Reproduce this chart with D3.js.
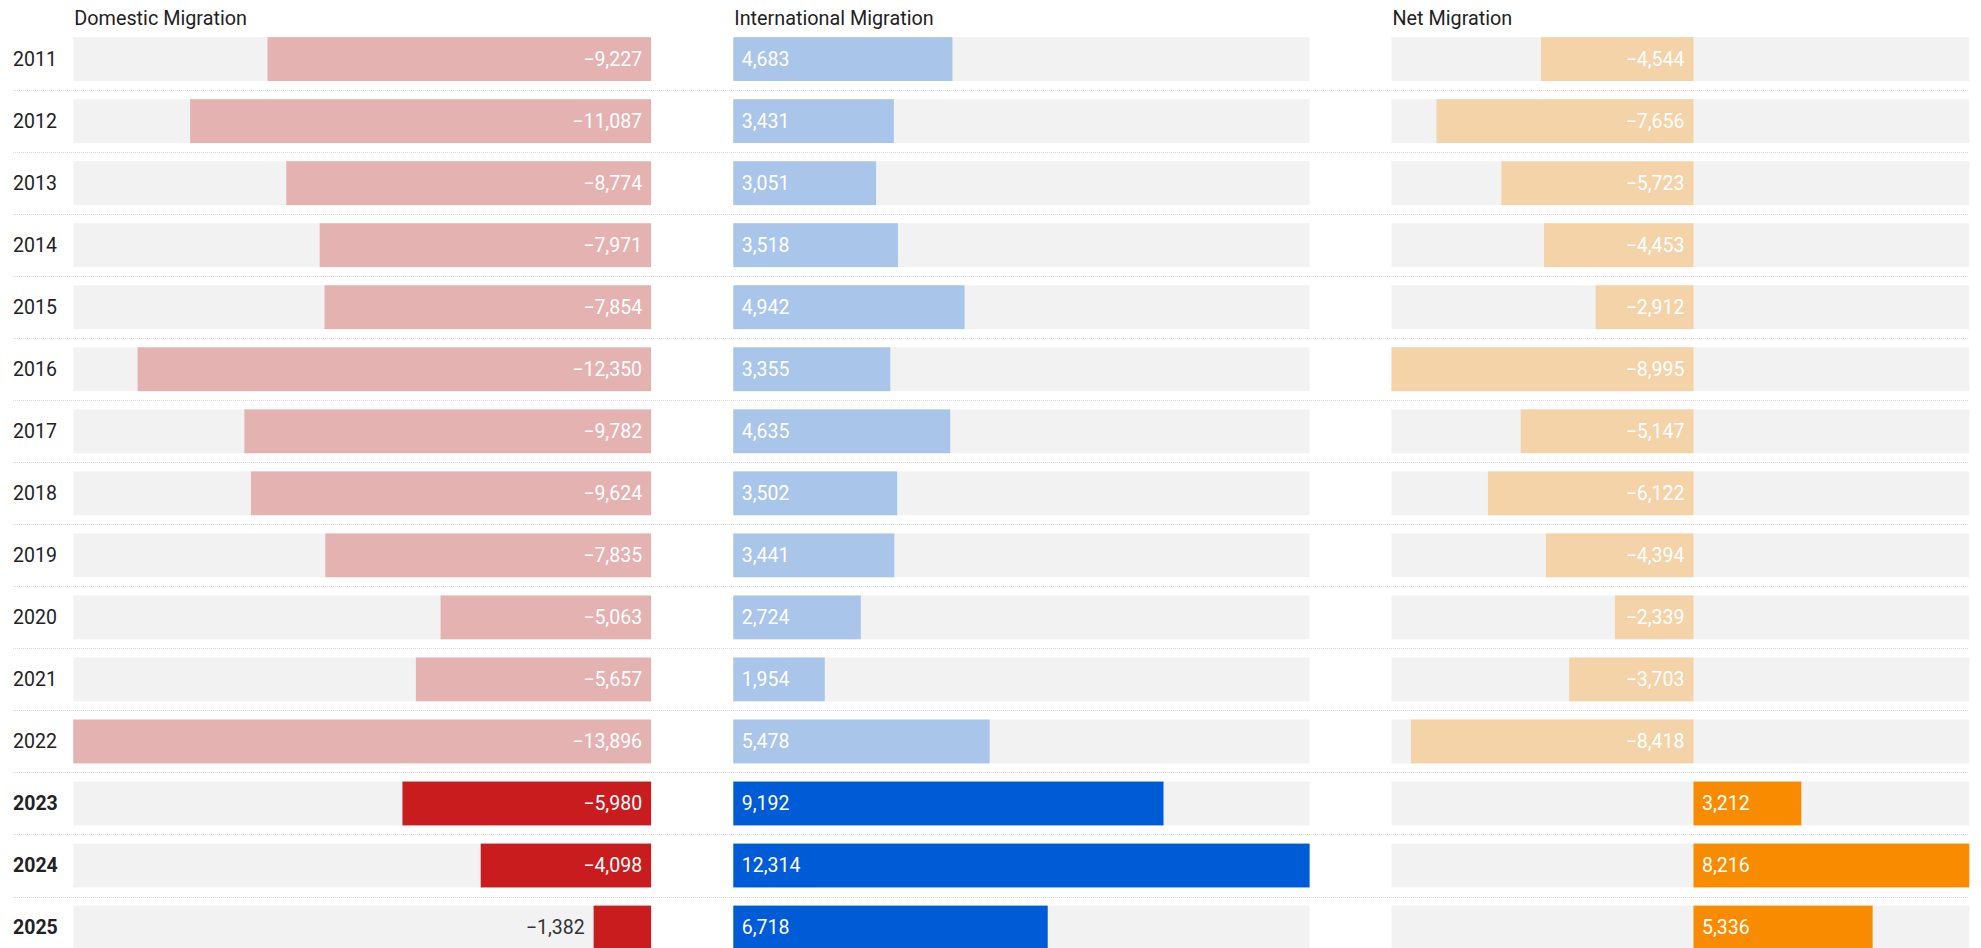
<!DOCTYPE html>
<html><head><meta charset="utf-8">
<script src="https://cdn.jsdelivr.net/npm/d3@7"></script>
<style>
html,body{margin:0;padding:0;background:#fff;}
svg{display:block;font-family:Roboto,"Noto Sans",sans-serif;}
</style></head>
<body><svg id="chart" width="1981" height="948"></svg>
<script>
const years = [2011,2012,2013,2014,2015,2016,2017,2018,2019,2020,2021,2022,2023,2024,2025];
const highlightYears = [2023,2024,2025];
const domestic = [-9227,-11087,-8774,-7971,-7854,-12350,-9782,-9624,-7835,-5063,-5657,-13896,-5980,-4098,-1382];
const international = [4683,3431,3051,3518,4942,3355,4635,3502,3441,2724,1954,5478,9192,12314,6718];
const net = [-4544,-7656,-5723,-4453,-2912,-8995,-5147,-6122,-4394,-2339,-3703,-8418,3212,8216,5336];
const panelTitles = ["Domestic Migration","International Migration","Net Migration"];
const lightColors = ["#e5b2b2","#a9c5e9","#f4d3a9"];
const darkColors = ["#c81c1e","#005bd6","#f98b00"];

const svg = d3.select("#chart");
const fmt = d3.format(",");
const step = 62.03, pInner = 18.2/62.03, top0 = 37.2;
const y = d3.scaleBand().domain(years).range([top0, top0 + step*(years.length - pInner)]).paddingInner(pInner).paddingOuter(0);

const panelLeft = [73.3, 733.3, 1391.5], panelW = [577.8, 576.3, 577.8];
const series = [domestic, international, net];

// dotted separators
const sepG = svg.append("g");
years.slice(0, -1).forEach(yr => {
  const yy = Math.round(y(yr) + y.bandwidth() + (y.step() - y.bandwidth())/2) + 0.5;
  sepG.append("line").attr("x1", 13).attr("x2", 1969).attr("y1", yy).attr("y2", yy)
    .attr("stroke", "#d9d9d9").attr("stroke-width", 1).attr("stroke-dasharray", "1,1");
});

// year labels
svg.append("g").selectAll("text").data(years).join("text")
  .attr("x", 13).attr("y", d => y(d) + y.bandwidth()/2)
  .attr("dy", "0.35em").attr("font-size", 19.5)
  .attr("font-weight", d => highlightYears.includes(d) ? 700 : 400)
  .attr("fill", "#222").text(d => d);

series.forEach((vals, pi) => {
  const ext = [Math.min(0, d3.min(vals)), Math.max(0, d3.max(vals))];
  const x = d3.scaleLinear().domain(ext).range([panelLeft[pi], panelLeft[pi] + panelW[pi]]);
  const g = svg.append("g");
  g.append("text").attr("x", panelLeft[pi] + 1).attr("y", 25).attr("font-size", 19.8)
    .attr("fill", "#222").text(panelTitles[pi]);
  const rows = years.map((yr, i) => ({yr, v: vals[i], hi: highlightYears.includes(yr)}));
  g.selectAll("rect.bg").data(rows).join("rect").attr("class","bg")
    .attr("x", panelLeft[pi]).attr("width", panelW[pi])
    .attr("y", d => y(d.yr)).attr("height", y.bandwidth()).attr("fill", "#f2f2f2");
  g.selectAll("rect.bar").data(rows).join("rect").attr("class","bar")
    .attr("x", d => x(Math.min(0, d.v))).attr("width", d => Math.abs(x(d.v) - x(0)))
    .attr("y", d => y(d.yr)).attr("height", y.bandwidth())
    .attr("fill", d => d.hi ? darkColors[pi] : lightColors[pi]);
  g.selectAll("text.val").data(rows).join("text").attr("class","val")
    .attr("font-size", 19.5)
    .attr("y", d => y(d.yr) + y.bandwidth()/2).attr("dy", "0.35em")
    .text(d => fmt(d.v))
    .each(function(d) {
      const t = d3.select(this);
      const w = this.getComputedTextLength();
      const bw = Math.abs(x(d.v) - x(0));
      const inside = bw >= w + 16;
      if (d.v < 0) {
        if (inside) t.attr("x", x(0) - 9).attr("text-anchor", "end").attr("fill", "#fff");
        else t.attr("x", x(d.v) - 9).attr("text-anchor", "end").attr("fill", "#333");
      } else {
        if (inside) t.attr("x", x(0) + 8.5).attr("text-anchor", "start").attr("fill", "#fff");
        else t.attr("x", x(d.v) + 8.5).attr("text-anchor", "start").attr("fill", "#333");
      }
    });
});
</script></body></html>
